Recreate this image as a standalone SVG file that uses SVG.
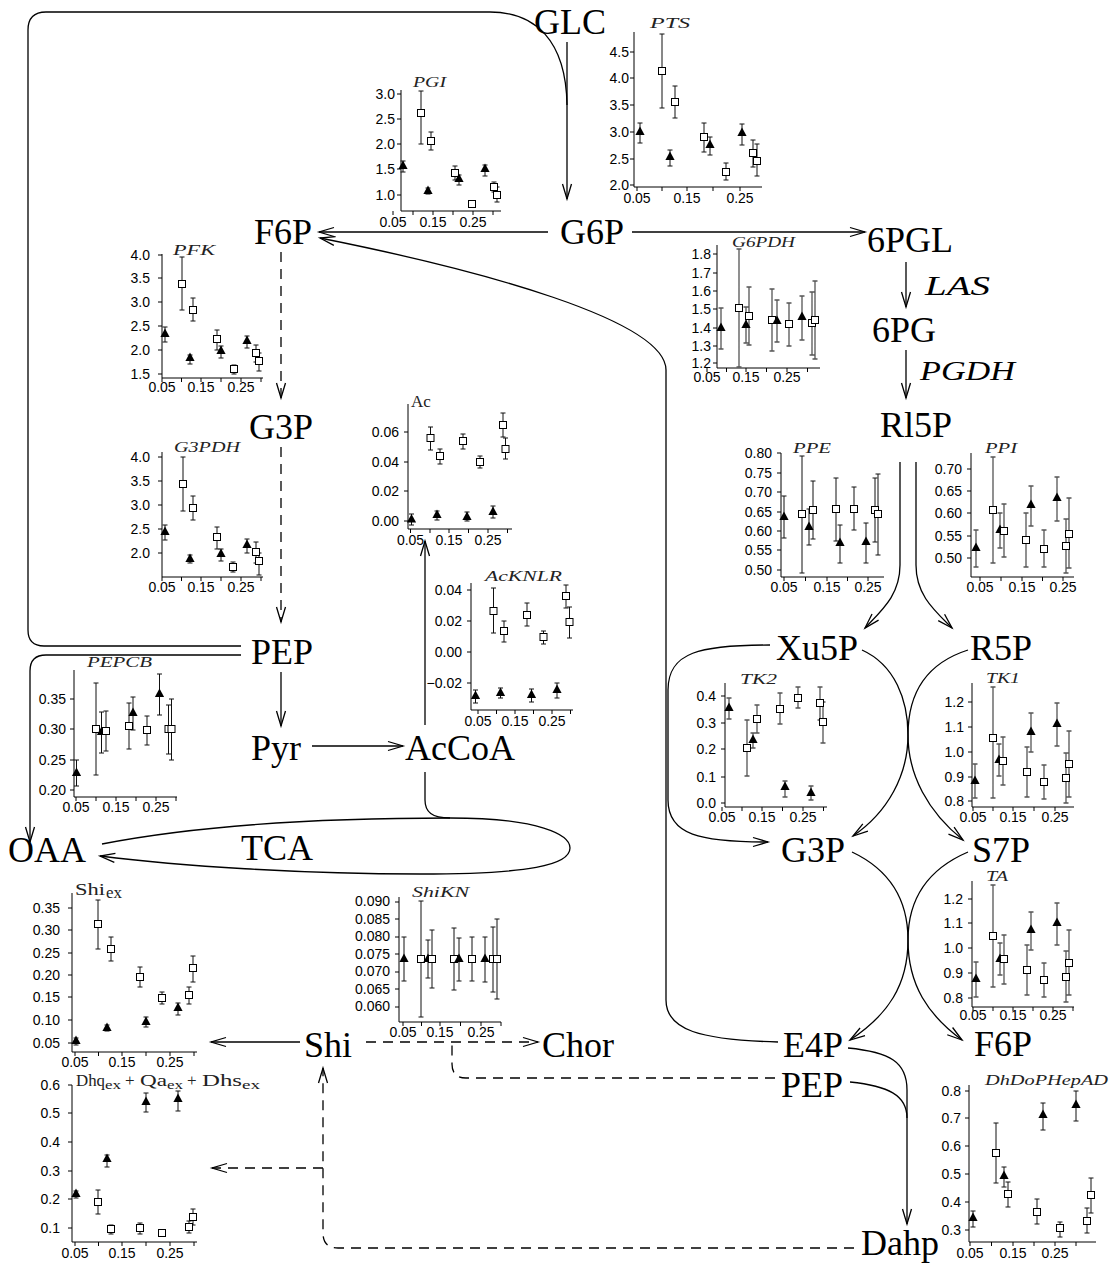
<svg xmlns="http://www.w3.org/2000/svg" xmlns:xlink="http://www.w3.org/1999/xlink" width="1113" height="1264" viewBox="0 0 1113 1264">
<defs>
<style>
.ax{fill:none;stroke:#000;stroke-width:1}
.eb{fill:none;stroke:#111;stroke-width:1}
.eg{fill:none;stroke:#555;stroke-width:1.3}
.tk{font-family:"Liberation Sans",Arial,sans-serif;font-size:14px;fill:#000}
.yl{text-anchor:end}
.xl{text-anchor:middle}
.ti{font-family:"Liberation Serif","Times New Roman",serif;font-style:italic;font-size:15px;fill:#222}
.tu{font-family:"Liberation Serif","Times New Roman",serif;font-size:17px;fill:#222}
.nd{font-family:"Liberation Serif","Times New Roman",serif;font-size:36px;fill:#000;text-anchor:middle}
.it{font-family:"Liberation Serif","Times New Roman",serif;font-size:28px;font-style:italic;fill:#000}
.cn{fill:none;stroke:#000;stroke-width:1.3}
.ds{stroke-dasharray:10 7}
</style>
<marker id="ah" markerUnits="userSpaceOnUse" markerWidth="20" markerHeight="12" refX="16" refY="6" orient="auto" overflow="visible"><path d="M1,1.5 L16,6 L1,10.5" fill="none" stroke="#000" stroke-width="1.3"/></marker>
<rect id="q" x="-3.5" y="-3.5" width="7" height="7" fill="#fff" stroke="#000" stroke-width="1"/>
<path id="t" d="M0,-5.5 L4.6,3 L-4.6,3Z" fill="#000"/>
</defs>
<rect width="1113" height="1264" fill="#fff"/>

<g id="connectors">
<path class="cn" d="M567,42 V199" marker-end="url(#ah)"/>
<path class="cn" d="M241,646 H44 Q28,646 28,630 V30 Q28,12 46,12 H490 C535,12 566,40 567,105"/>
<path class="cn" d="M241,655 H46 Q30,655 30,671 V842" marker-end="url(#ah)"/>
<path class="cn" d="M548,232 H319" marker-end="url(#ah)"/>
<path class="cn" d="M632,232 H865" marker-end="url(#ah)"/>
<path class="cn" d="M906,262 V307" marker-end="url(#ah)"/>
<path class="cn" d="M906,350 V398" marker-end="url(#ah)"/>
<path class="cn ds" d="M281,252 V398" marker-end="url(#ah)"/>
<path class="cn ds" d="M281,447 V622" marker-end="url(#ah)"/>
<path class="cn" d="M281,672 V726" marker-end="url(#ah)"/>
<path class="cn" d="M312,746 H403" marker-end="url(#ah)"/>
<path class="cn" d="M425,725 V541" marker-end="url(#ah)"/>
<path class="cn" d="M425,772 V800 C425,812 432,818 450,818"/>
<path class="cn" d="M102,844 C200,825 330,818 450,818 C540,818 570,835 570,848 C570,865 530,874 420,874 C300,874 180,866 100,856" marker-end="url(#ah)"/>
<path class="cn" d="M900,462 V565 C900,595 882,610 865,628" marker-end="url(#ah)"/>
<path class="cn" d="M916,462 V565 C916,595 934,610 952,628" marker-end="url(#ah)"/>
<path class="cn" d="M770,645 C700,645 668,652 668,690 V800 C668,835 700,842 768,842" marker-end="url(#ah)"/>
<path class="cn" d="M862,650 C895,665 908,700 908,735 C908,775 928,812 963,840" marker-end="url(#ah)"/>
<path class="cn" d="M968,650 C921,665 908,700 908,735 C908,775 888,812 853,836" marker-end="url(#ah)"/>
<path class="cn" d="M852,852 C890,870 908,900 908,940 C908,985 928,1015 962,1040" marker-end="url(#ah)"/>
<path class="cn" d="M968,852 C926,870 908,900 908,940 C908,985 888,1015 850,1040" marker-end="url(#ah)"/>
<path class="cn" d="M778,1042 C700,1040 666,1030 666,1000 V370 C666,320 480,270 320,238" marker-end="url(#ah)"/>
<path class="cn" d="M848,1048 C890,1052 907,1062 907,1090 V1224" marker-end="url(#ah)"/>
<path class="cn" d="M850,1082 C888,1086 907,1095 907,1118"/>
<path class="cn" d="M300,1042 H211" marker-end="url(#ah)"/>
<path class="cn ds" d="M366,1042 H538" marker-end="url(#ah)"/>
<path class="cn ds" d="M775,1078 H466 Q452,1078 452,1064 V1045"/>
<path class="cn ds" d="M854,1248 H338 Q323,1248 323,1233 V1068" marker-end="url(#ah)"/>
<path class="cn ds" d="M323,1168 H212" marker-end="url(#ah)"/>
</g>

<g id="n-GLC"><text class="nd" x="570" y="34">GLC</text></g>
<g id="n-G6P"><text class="nd" x="592" y="244">G6P</text></g>
<g id="n-F6P"><text class="nd" x="283" y="244">F6P</text></g>
<g id="n-6PGL"><text class="nd" x="910" y="252">6PGL</text></g>
<g id="n-6PG"><text class="nd" x="904" y="342">6PG</text></g>
<g id="n-Rl5P"><text class="nd" x="916" y="437">Rl5P</text></g>
<g id="n-G3P"><text class="nd" x="281" y="439">G3P</text></g>
<g id="n-PEP"><text class="nd" x="282" y="664">PEP</text></g>
<g id="n-Pyr"><text class="nd" x="276" y="760">Pyr</text></g>
<g id="n-AcCoA"><text class="nd" x="460" y="760">AcCoA</text></g>
<g id="n-OAA"><text class="nd" x="47" y="862">OAA</text></g>
<g id="n-TCA"><text class="nd" x="277" y="860">TCA</text></g>
<g id="n-Xu5P"><text class="nd" x="817" y="660">Xu5P</text></g>
<g id="n-R5P"><text class="nd" x="1001" y="660">R5P</text></g>
<g id="n-G3P2"><text class="nd" x="813" y="862">G3P</text></g>
<g id="n-S7P"><text class="nd" x="1001" y="862">S7P</text></g>
<g id="n-E4P"><text class="nd" x="813" y="1057">E4P</text></g>
<g id="n-F6P2"><text class="nd" x="1003" y="1056">F6P</text></g>
<g id="n-PEP2"><text class="nd" x="812" y="1097">PEP</text></g>
<g id="n-Shi"><text class="nd" x="328" y="1057">Shi</text></g>
<g id="n-Chor"><text class="nd" x="578" y="1057">Chor</text></g>
<g id="n-Dahp"><text class="nd" x="900" y="1255">Dahp</text></g>
<g id="l-LAS"><text class="it" x="925" y="295" textLength="65" lengthAdjust="spacingAndGlyphs">LAS</text></g>
<g id="l-PGDH"><text class="it" x="920" y="380" textLength="95" lengthAdjust="spacingAndGlyphs">PGDH</text></g>

<!-- PGI -->
<g id="p-PGI">
<path class="ax" d="M401,90 V211 H501 M397,94h4M397,119h4M397,144h4M397,169h4M397,195h4 M393,211v4M413,211v4M433,211v4M453,211v4M473,211v4M493,211v4"/>
<g class="tk yl"><text x="395" y="99">3.0</text><text x="395" y="124">2.5</text><text x="395" y="149">2.0</text><text x="395" y="174">1.5</text><text x="395" y="200">1.0</text></g>
<g class="tk xl"><text x="393" y="227">0.05</text><text x="433" y="227">0.15</text><text x="473" y="227">0.25</text></g>
<text class="ti" x="413" y="87" textLength="33" lengthAdjust="spacingAndGlyphs">PGI</text>
<path class="eb" d="M403 161V172M400.5 161h5M400.5 172h5M421 91V144M418.5 91h5M418.5 144h5M428 188V194M425.5 188h5M425.5 194h5M431 132V150M428.5 132h5M428.5 150h5M455 166V180M452.5 166h5M452.5 180h5M459 175V185M456.5 175h5M456.5 185h5M472 202V206M469.5 202h5M469.5 206h5M485 165V176M482.5 165h5M482.5 176h5M494 182V192M491.5 182h5M491.5 192h5M497 187V202M494.5 187h5M494.5 202h5"/>
<use href="#t" x="403" y="166"/><use href="#q" x="421" y="113"/><use href="#t" x="428" y="191"/><use href="#q" x="431" y="141"/><use href="#q" x="455" y="173"/><use href="#t" x="459" y="179"/><use href="#q" x="472" y="204"/><use href="#t" x="485" y="169"/><use href="#q" x="494" y="187"/><use href="#q" x="497" y="195"/>
</g>

<!-- PTS -->
<g id="p-PTS">
<path class="ax" d="M634,32 V187 H762 M630,52h4M630,78h4M630,105h4M630,132h4M630,159h4M630,185h4 M637,187v4M662,187v4M687,187v4M713,187v4M740,187v4"/>
<g class="tk yl"><text x="629" y="57">4.5</text><text x="629" y="83">4.0</text><text x="629" y="110">3.5</text><text x="629" y="137">3.0</text><text x="629" y="164">2.5</text><text x="629" y="190">2.0</text></g>
<g class="tk xl"><text x="637" y="203">0.05</text><text x="687" y="203">0.15</text><text x="740" y="203">0.25</text></g>
<text class="ti" x="650" y="28" textLength="40" lengthAdjust="spacingAndGlyphs">PTS</text>
<path class="eb" d="M640 123V143M637.5 123h5M637.5 143h5M662 34V108M659.5 34h5M659.5 108h5M670 150V166M667.5 150h5M667.5 166h5M675 86V118M672.5 86h5M672.5 118h5M704 123V152M701.5 123h5M701.5 152h5M710 137V155M707.5 137h5M707.5 155h5M726 163V180M723.5 163h5M723.5 180h5M742 124V145M739.5 124h5M739.5 145h5M753 140V167M750.5 140h5M750.5 167h5M757 144V176M754.5 144h5M754.5 176h5"/>
<use href="#t" x="640" y="132"/><use href="#q" x="662" y="71"/><use href="#t" x="670" y="157"/><use href="#q" x="675" y="102"/><use href="#q" x="704" y="137"/><use href="#t" x="710" y="145"/><use href="#q" x="726" y="172"/><use href="#t" x="742" y="133"/><use href="#q" x="753" y="153"/><use href="#q" x="757" y="161"/>
</g>

<!-- PFK -->
<g id="p-PFK">
<path class="ax" d="M162,254 V378 H263 M158,255h4M158,278h4M158,302h4M158,326h4M158,350h4M158,374h4 M162,378v4M181.5,378v4M201,378v4M221,378v4M241,378v4M261,378v4"/>
<g class="tk yl"><text x="150" y="260">4.0</text><text x="150" y="283">3.5</text><text x="150" y="307">3.0</text><text x="150" y="331">2.5</text><text x="150" y="355">2.0</text><text x="150" y="379">1.5</text></g>
<g class="tk xl"><text x="162" y="392">0.05</text><text x="201" y="392">0.15</text><text x="241" y="392">0.25</text></g>
<text class="ti" x="173" y="255" textLength="42" lengthAdjust="spacingAndGlyphs">PFK</text>
<path class="eb" d="M165 327V342M162.5 327h5M162.5 342h5M182 257V310M179.5 257h5M179.5 310h5M190 355V364M187.5 355h5M187.5 364h5M193 298V321M190.5 298h5M190.5 321h5M217 330V350M214.5 330h5M214.5 350h5M221 346V358M218.5 346h5M218.5 358h5M234 365V374M231.5 365h5M231.5 374h5M247 336V348M244.5 336h5M244.5 348h5M256 345V362M253.5 345h5M253.5 362h5M259 353V371M256.5 353h5M256.5 371h5"/>
<use href="#t" x="165" y="334"/><use href="#q" x="182" y="284"/><use href="#t" x="190" y="358"/><use href="#q" x="193" y="310"/><use href="#q" x="217" y="339"/><use href="#t" x="221" y="351"/><use href="#q" x="234" y="369"/><use href="#t" x="247" y="341"/><use href="#q" x="256" y="353"/><use href="#q" x="259" y="361"/>
</g>

<!-- G3PDH -->
<g id="p-G3PDH">
<path class="ax" d="M162,452 V577 H263 M158,457h4M158,481h4M158,505h4M158,529h4M158,553h4 M162,577v4M181.5,577v4M201,577v4M221,577v4M241,577v4M261,577v4"/>
<g class="tk yl"><text x="150" y="462">4.0</text><text x="150" y="486">3.5</text><text x="150" y="510">3.0</text><text x="150" y="534">2.5</text><text x="150" y="558">2.0</text></g>
<g class="tk xl"><text x="162" y="592">0.05</text><text x="201" y="592">0.15</text><text x="241" y="592">0.25</text></g>
<text class="ti" x="174" y="452" textLength="66" lengthAdjust="spacingAndGlyphs">G3PDH</text>
<path class="eb" d="M165 525V540M162.5 525h5M162.5 540h5M183 457V511M180.5 457h5M180.5 511h5M190 555V563M187.5 555h5M187.5 563h5M193 496V520M190.5 496h5M190.5 520h5M217 527V549M214.5 527h5M214.5 549h5M221 549V561M218.5 549h5M218.5 561h5M233 562V572M230.5 562h5M230.5 572h5M247 539V553M244.5 539h5M244.5 553h5M256 542V563M253.5 542h5M253.5 563h5M259 553V575M256.5 553h5M256.5 575h5"/>
<use href="#t" x="165" y="532"/><use href="#q" x="183" y="484"/><use href="#t" x="190" y="559"/><use href="#q" x="193" y="508"/><use href="#q" x="217" y="537"/><use href="#t" x="221" y="554"/><use href="#q" x="233" y="567"/><use href="#t" x="247" y="545"/><use href="#q" x="256" y="552"/><use href="#q" x="259" y="561"/>
</g>

<!-- Ac -->
<g id="p-Ac">
<path class="ax" d="M408,404 V529 H512 M404,432h4M404,462h4M404,491h4M404,521h4 M410.5,529v4M430,529v4M449,529v4M468.5,529v4M488,529v4M507.5,529v4"/>
<g class="tk yl"><text x="399" y="437">0.06</text><text x="399" y="467">0.04</text><text x="399" y="496">0.02</text><text x="399" y="526">0.00</text></g>
<g class="tk xl"><text x="410.5" y="545">0.05</text><text x="449" y="545">0.15</text><text x="488" y="545">0.25</text></g>
<text class="tu" x="411" y="407" font-size="16">Ac</text>
<path class="eb" d="M411.5 514V525M409 514h5M409 525h5M430.5 427V450M428 427h5M428 450h5M437 511V520M434.5 511h5M434.5 520h5M440 449V464M437.5 449h5M437.5 464h5M463 434V449M460.5 434h5M460.5 449h5M467 512V521M464.5 512h5M464.5 521h5M480 456V468M477.5 456h5M477.5 468h5M493 506V518M490.5 506h5M490.5 518h5M503 413V437M500.5 413h5M500.5 437h5M505.5 438V459M503 438h5M503 459h5"/>
<use href="#t" x="411.5" y="519.5"/><use href="#q" x="430.5" y="438"/><use href="#t" x="437" y="515"/><use href="#q" x="440" y="456"/><use href="#q" x="463" y="441"/><use href="#t" x="467" y="517"/><use href="#q" x="480" y="462"/><use href="#t" x="493" y="512"/><use href="#q" x="503" y="425"/><use href="#q" x="505.5" y="449"/>
</g>

<!-- AcKNLR -->
<g id="p-AcKNLR">
<path class="ax" d="M471,583 V710 H573 M467,590h4M467,621h4M467,652h4M467,683h4 M478,710v4M496.5,710v4M515,710v4M533.5,710v4M552,710v4M570.5,710v4"/>
<g class="tk yl"><text x="462" y="595">0.04</text><text x="462" y="626">0.02</text><text x="462" y="657">0.00</text><text x="462" y="688">−0.02</text></g>
<g class="tk xl"><text x="478" y="726">0.05</text><text x="515" y="726">0.15</text><text x="552" y="726">0.25</text></g>
<text class="ti" x="485" y="581" textLength="77" lengthAdjust="spacingAndGlyphs">AcKNLR</text>
<path class="eb" d="M475.5 690V703M473 690h5M473 703h5M493.5 588V633M491 588h5M491 633h5M500.5 688V698M498 688h5M498 698h5M504 621V642M501.5 621h5M501.5 642h5M527 603V626M524.5 603h5M524.5 626h5M531.5 689V702M529 689h5M529 702h5M543.5 631V644M541 631h5M541 644h5M557 683V698M554.5 683h5M554.5 698h5M566 585V608M563.5 585h5M563.5 608h5M569.5 607V638M567 607h5M567 638h5"/>
<use href="#t" x="475.5" y="696"/><use href="#q" x="493.5" y="611"/><use href="#t" x="500.5" y="693"/><use href="#q" x="504" y="631"/><use href="#q" x="527" y="615"/><use href="#t" x="531.5" y="695"/><use href="#q" x="543.5" y="637"/><use href="#t" x="557" y="690"/><use href="#q" x="566" y="596"/><use href="#q" x="569.5" y="622"/>
</g>

<!-- PEPCB -->
<g id="p-PEPCB">
<path class="ax" d="M74,670 V797 H177 M70,699h4M70,729h4M70,760h4M70,790h4 M76,797v4M96,797v4M116,797v4M136,797v4M156,797v4M176,797v4"/>
<g class="tk yl"><text x="66" y="704">0.35</text><text x="66" y="734">0.30</text><text x="66" y="765">0.25</text><text x="66" y="795">0.20</text></g>
<g class="tk xl"><text x="76" y="812">0.05</text><text x="116" y="812">0.15</text><text x="156" y="812">0.25</text></g>
<text class="ti" x="87" y="667" textLength="65" lengthAdjust="spacingAndGlyphs">PEPCB</text>
<path class="eb" d="M76.5 760V786M74 760h5M74 786h5M96 683V775M93.5 683h5M93.5 775h5M101.5 712V753M99 712h5M99 753h5M106 711V751M103.5 711h5M103.5 751h5M129 703V749M126.5 703h5M126.5 749h5M133 697V730M130.5 697h5M130.5 730h5M147 716V745M144.5 716h5M144.5 745h5M159.5 674V715M157 674h5M157 715h5M168.5 705V754M166 705h5M166 754h5M171.5 699V760M169 699h5M169 760h5"/>
<use href="#t" x="76.5" y="773"/><use href="#q" x="96" y="729"/><use href="#t" x="101.5" y="732"/><use href="#q" x="106" y="731"/><use href="#q" x="129" y="726"/><use href="#t" x="133" y="713"/><use href="#q" x="147" y="730"/><use href="#t" x="159.5" y="694"/><use href="#q" x="168.5" y="729"/><use href="#q" x="171.5" y="729"/>
</g>

<!-- G6PDH -->
<g id="p-G6PDH">
<path class="ax" d="M717,245 V368 H820 M713,254h4M713,273h4M713,291h4M713,309h4M713,328h4M713,346h4M713,363h4 M707,368v4M726.5,368v4M746,368v4M766.5,368v4M787,368v4M807.5,368v4"/>
<g class="tk yl"><text x="711" y="259">1.8</text><text x="711" y="278">1.7</text><text x="711" y="296">1.6</text><text x="711" y="314">1.5</text><text x="711" y="333">1.4</text><text x="711" y="351">1.3</text><text x="711" y="368">1.2</text></g>
<g class="tk xl"><text x="707" y="382">0.05</text><text x="746" y="382">0.15</text><text x="787" y="382">0.25</text></g>
<text class="ti" x="732" y="247" textLength="63" lengthAdjust="spacingAndGlyphs">G6PDH</text>
<path class="eg" d="M721 308V349M718.5 308h5M718.5 349h5M739 249V367M736.5 249h5M736.5 367h5M746 307V343M743.5 307h5M743.5 343h5M749 287V345M746.5 287h5M746.5 345h5M772 289V351M769.5 289h5M769.5 351h5M777 300V342M774.5 300h5M774.5 342h5M789 303V346M786.5 303h5M786.5 346h5M802 296V340M799.5 296h5M799.5 340h5M812 292V355M809.5 292h5M809.5 355h5M815 281V359M812.5 281h5M812.5 359h5"/>
<use href="#t" x="721" y="328"/><use href="#q" x="739" y="308"/><use href="#t" x="746" y="325"/><use href="#q" x="749" y="316"/><use href="#q" x="772" y="320"/><use href="#t" x="777" y="321"/><use href="#q" x="789" y="324"/><use href="#t" x="802" y="317"/><use href="#q" x="812" y="323"/><use href="#q" x="815" y="320"/>
</g>

<!-- PPE -->
<g id="p-PPE">
<path class="ax" d="M781,453 V577 H884 M777,453h4M777,473h4M777,492h4M777,512h4M777,531h4M777,550h4M777,570h4 M784,577v4M805.5,577v4M827,577v4M847.5,577v4M868,577v4"/>
<g class="tk yl"><text x="772" y="458">0.80</text><text x="772" y="478">0.75</text><text x="772" y="497">0.70</text><text x="772" y="517">0.65</text><text x="772" y="536">0.60</text><text x="772" y="555">0.55</text><text x="772" y="575">0.50</text></g>
<g class="tk xl"><text x="784" y="592">0.05</text><text x="827" y="592">0.15</text><text x="868" y="592">0.25</text></g>
<text class="ti" x="793" y="453" textLength="38" lengthAdjust="spacingAndGlyphs">PPE</text>
<path class="eb" d="M784 496V538M781.5 496h5M781.5 538h5M802 456V573M799.5 456h5M799.5 573h5M809 509V545M806.5 509h5M806.5 545h5M813 481V539M810.5 481h5M810.5 539h5M836 478V541M833.5 478h5M833.5 541h5M840 525V563M837.5 525h5M837.5 563h5M854 487V530M851.5 487h5M851.5 530h5M866 523V563M863.5 523h5M863.5 563h5M875 478V542M872.5 478h5M872.5 542h5M878 474V555M875.5 474h5M875.5 555h5"/>
<use href="#t" x="784" y="517"/><use href="#q" x="802" y="514"/><use href="#t" x="809" y="527"/><use href="#q" x="813" y="510"/><use href="#q" x="836" y="509"/><use href="#t" x="840" y="543"/><use href="#q" x="854" y="509"/><use href="#t" x="866" y="542"/><use href="#q" x="875" y="510"/><use href="#q" x="878" y="514"/>
</g>

<!-- PPI -->
<g id="p-PPI">
<path class="ax" d="M971,453 V577 H1074 M967,469h4M967,491h4M967,513h4M967,536h4M967,558h4 M980,577v4M1001,577v4M1022,577v4M1042.5,577v4M1063,577v4"/>
<g class="tk yl"><text x="962" y="474">0.70</text><text x="962" y="496">0.65</text><text x="962" y="518">0.60</text><text x="962" y="541">0.55</text><text x="962" y="563">0.50</text></g>
<g class="tk xl"><text x="980" y="592">0.05</text><text x="1022" y="592">0.15</text><text x="1063" y="592">0.25</text></g>
<text class="ti" x="985" y="453" textLength="32" lengthAdjust="spacingAndGlyphs">PPI</text>
<path class="eg" d="M976 530V567M973.5 530h5M973.5 567h5M993 457V563M990.5 457h5M990.5 563h5M1000 513V548M997.5 513h5M997.5 548h5M1004 504V557M1001.5 504h5M1001.5 557h5M1026 513V567M1023.5 513h5M1023.5 567h5M1031 486V526M1028.5 486h5M1028.5 526h5M1044 530V567M1041.5 530h5M1041.5 567h5M1057 477V521M1054.5 477h5M1054.5 521h5M1066 519V573M1063.5 519h5M1063.5 573h5M1069 498V568M1066.5 498h5M1066.5 568h5"/>
<use href="#t" x="976" y="548"/><use href="#q" x="993" y="510"/><use href="#t" x="1000" y="530"/><use href="#q" x="1004" y="531"/><use href="#q" x="1026" y="540"/><use href="#t" x="1031" y="505"/><use href="#q" x="1044" y="549"/><use href="#t" x="1057" y="498"/><use href="#q" x="1066" y="546"/><use href="#q" x="1069" y="534"/>
</g>

<!-- TK2 -->
<g id="p-TK2">
<path class="ax" d="M725,683 V807 H827 M721,696h4M721,723h4M721,749h4M721,777h4M721,803h4 M722,807v4M742,807v4M762,807v4M782.5,807v4M803,807v4M823.5,807v4"/>
<g class="tk yl"><text x="716" y="701">0.4</text><text x="716" y="728">0.3</text><text x="716" y="754">0.2</text><text x="716" y="782">0.1</text><text x="716" y="808">0.0</text></g>
<g class="tk xl"><text x="722" y="822">0.05</text><text x="762" y="822">0.15</text><text x="803" y="822">0.25</text></g>
<text class="ti" x="740" y="684" textLength="37" lengthAdjust="spacingAndGlyphs">TK2</text>
<path class="eg" d="M729 698V719M726.5 698h5M726.5 719h5M747 720V776M744.5 720h5M744.5 776h5M753 733V748M750.5 733h5M750.5 748h5M757 705V733M754.5 705h5M754.5 733h5M780 693V724M777.5 693h5M777.5 724h5M785 781V797M782.5 781h5M782.5 797h5M798 687V708M795.5 687h5M795.5 708h5M811 786V800M808.5 786h5M808.5 800h5M820 687V720M817.5 687h5M817.5 720h5M823 702V743M820.5 702h5M820.5 743h5"/>
<use href="#t" x="729" y="708"/><use href="#q" x="747" y="748"/><use href="#t" x="753" y="740"/><use href="#q" x="757" y="719"/><use href="#q" x="780" y="709"/><use href="#t" x="785" y="787"/><use href="#q" x="798" y="698"/><use href="#t" x="811" y="793"/><use href="#q" x="820" y="703"/><use href="#q" x="823" y="722"/>
</g>

<!-- TK1 -->
<g id="p-TK1">
<path class="ax" d="M972,683 V807 H1074 M968,702h4M968,727h4M968,752h4M968,777h4M968,801h4 M973,807v4M993,807v4M1013,807v4M1034,807v4M1055,807v4"/>
<g class="tk yl"><text x="964" y="707">1.2</text><text x="964" y="732">1.1</text><text x="964" y="757">1.0</text><text x="964" y="782">0.9</text><text x="964" y="806">0.8</text></g>
<g class="tk xl"><text x="973" y="822">0.05</text><text x="1013" y="822">0.15</text><text x="1055" y="822">0.25</text></g>
<text class="ti" x="986" y="683" textLength="34" lengthAdjust="spacingAndGlyphs">TK1</text>
<path class="eg" d="M975 764V798M972.5 764h5M972.5 798h5M993 687V798M990.5 687h5M990.5 798h5M999 744V776M996.5 744h5M996.5 776h5M1003 737V785M1000.5 737h5M1000.5 785h5M1027 747V797M1024.5 747h5M1024.5 797h5M1031 713V752M1028.5 713h5M1028.5 752h5M1044 765V799M1041.5 765h5M1041.5 799h5M1057 703V746M1054.5 703h5M1054.5 746h5M1066 753V803M1063.5 753h5M1063.5 803h5M1069 731V797M1066.5 731h5M1066.5 797h5"/>
<use href="#t" x="975" y="781"/><use href="#q" x="993" y="738"/><use href="#t" x="999" y="760"/><use href="#q" x="1003" y="761"/><use href="#q" x="1027" y="772"/><use href="#t" x="1031" y="732"/><use href="#q" x="1044" y="782"/><use href="#t" x="1057" y="724"/><use href="#q" x="1066" y="778"/><use href="#q" x="1069" y="764"/>
</g>

<!-- TA -->
<g id="p-TA">
<path class="ax" d="M972,881 V1007 H1074 M968,899h4M968,923h4M968,948h4M968,973h4M968,998h4 M973,1007v4M993,1007v4M1013,1007v4M1033,1007v4M1053,1007v4M1073,1007v4"/>
<g class="tk yl"><text x="963" y="904">1.2</text><text x="963" y="928">1.1</text><text x="963" y="953">1.0</text><text x="963" y="978">0.9</text><text x="963" y="1003">0.8</text></g>
<g class="tk xl"><text x="973" y="1020">0.05</text><text x="1013" y="1020">0.15</text><text x="1053" y="1020">0.25</text></g>
<text class="ti" x="986" y="881" textLength="22" lengthAdjust="spacingAndGlyphs">TA</text>
<path class="eg" d="M976 962V997M973.5 962h5M973.5 997h5M993 885V987M990.5 885h5M990.5 987h5M1000 943V975M997.5 943h5M997.5 975h5M1004 935V984M1001.5 935h5M1001.5 984h5M1027 945V995M1024.5 945h5M1024.5 995h5M1031 912V950M1028.5 912h5M1028.5 950h5M1044 963V997M1041.5 963h5M1041.5 997h5M1057 903V945M1054.5 903h5M1054.5 945h5M1066 951V1002M1063.5 951h5M1063.5 1002h5M1069 930V995M1066.5 930h5M1066.5 995h5"/>
<use href="#t" x="976" y="979"/><use href="#q" x="993" y="936"/><use href="#t" x="1000" y="959"/><use href="#q" x="1004" y="959"/><use href="#q" x="1027" y="970"/><use href="#t" x="1031" y="930"/><use href="#q" x="1044" y="980"/><use href="#t" x="1057" y="923"/><use href="#q" x="1066" y="977"/><use href="#q" x="1069" y="963"/>
</g>

<!-- DhDoPHepAD -->
<g id="p-DhDoPHepAD">
<path class="ax" d="M969,1085 V1242 H1096 M965,1091h4M965,1118h4M965,1146h4M965,1174h4M965,1202h4M965,1230h4 M970,1242v4M991.5,1242v4M1013,1242v4M1034,1242v4M1055,1242v4M1076,1242v4"/>
<g class="tk yl"><text x="961" y="1096">0.8</text><text x="961" y="1123">0.7</text><text x="961" y="1151">0.6</text><text x="961" y="1179">0.5</text><text x="961" y="1207">0.4</text><text x="961" y="1235">0.3</text></g>
<g class="tk xl"><text x="970" y="1258">0.05</text><text x="1013" y="1258">0.15</text><text x="1055" y="1258">0.25</text></g>
<text class="ti" x="985" y="1085" textLength="123" lengthAdjust="spacingAndGlyphs">DhDoPHepAD</text>
<path class="eb" d="M973 1211V1227M970.5 1211h5M970.5 1227h5M996 1123V1183M993.5 1123h5M993.5 1183h5M1004 1167V1187M1001.5 1167h5M1001.5 1187h5M1008 1182V1207M1005.5 1182h5M1005.5 1207h5M1037 1199V1224M1034.5 1199h5M1034.5 1224h5M1043 1103V1130M1040.5 1103h5M1040.5 1130h5M1060 1222V1237M1057.5 1222h5M1057.5 1237h5M1076 1091V1121M1073.5 1091h5M1073.5 1121h5M1087 1208V1233M1084.5 1208h5M1084.5 1233h5M1091 1178V1213M1088.5 1178h5M1088.5 1213h5"/>
<use href="#t" x="973" y="1218"/><use href="#q" x="996" y="1153"/><use href="#t" x="1004" y="1176"/><use href="#q" x="1008" y="1194"/><use href="#q" x="1037" y="1212"/><use href="#t" x="1043" y="1115"/><use href="#q" x="1060" y="1228"/><use href="#t" x="1076" y="1105"/><use href="#q" x="1087" y="1221"/><use href="#q" x="1091" y="1195"/>
</g>

<!-- Shi_ex -->
<g id="p-Shiex">
<path class="ax" d="M72,893 V1052 H197 M68,908h4M68,930h4M68,953h4M68,975h4M68,997h4M68,1020h4M68,1043h4 M75,1052v4M98.5,1052v4M122,1052v4M146,1052v4M170,1052v4M194,1052v4"/>
<g class="tk yl"><text x="60" y="913">0.35</text><text x="60" y="935">0.30</text><text x="60" y="958">0.25</text><text x="60" y="980">0.20</text><text x="60" y="1002">0.15</text><text x="60" y="1025">0.10</text><text x="60" y="1048">0.05</text></g>
<g class="tk xl"><text x="75" y="1067">0.05</text><text x="122" y="1067">0.15</text><text x="170" y="1067">0.25</text></g>
<text class="tu" x="75" y="895" font-size="18" textLength="30" lengthAdjust="spacingAndGlyphs">Shi</text><text class="tu" x="106" y="898" font-size="13">ex</text>
<path class="eb" d="M76 1038V1045M73.5 1038h5M73.5 1045h5M98 900V949M95.5 900h5M95.5 949h5M107 1025V1031M104.5 1025h5M104.5 1031h5M111 937V961M108.5 937h5M108.5 961h5M140 967V987M137.5 967h5M137.5 987h5M146 1017V1027M143.5 1017h5M143.5 1027h5M162 992V1004M159.5 992h5M159.5 1004h5M178 1003V1015M175.5 1003h5M175.5 1015h5M189 987V1004M186.5 987h5M186.5 1004h5M193 956V982M190.5 956h5M190.5 982h5"/>
<use href="#t" x="76" y="1041"/><use href="#q" x="98" y="924"/><use href="#t" x="107" y="1028"/><use href="#q" x="111" y="949"/><use href="#q" x="140" y="977"/><use href="#t" x="146" y="1022"/><use href="#q" x="162" y="998"/><use href="#t" x="178" y="1008"/><use href="#q" x="189" y="995"/><use href="#q" x="193" y="968"/>
</g>

<!-- ShiKN -->
<g id="p-ShiKN">
<path class="ax" d="M399,897 V1022 H501 M395,902h4M395,919h4M395,937h4M395,954h4M395,972h4M395,989h4M395,1007h4 M403,1022v4M421.5,1022v4M440,1022v4M460.5,1022v4M481,1022v4M501,1022v4"/>
<g class="tk yl" font-size="13.5"><text x="390" y="906">0.090</text><text x="390" y="924">0.085</text><text x="390" y="941">0.080</text><text x="390" y="959">0.075</text><text x="390" y="976">0.070</text><text x="390" y="994">0.065</text><text x="390" y="1011">0.060</text></g>
<g class="tk xl"><text x="403" y="1037">0.05</text><text x="440" y="1037">0.15</text><text x="481" y="1037">0.25</text></g>
<text class="ti" x="412" y="897" textLength="57" lengthAdjust="spacingAndGlyphs">ShiKN</text>
<path class="eb" d="M404 937V981M401.5 937h5M401.5 981h5M421 901V1017M418.5 901h5M418.5 1017h5M428 940V978M425.5 940h5M425.5 978h5M432 930V988M429.5 930h5M429.5 988h5M454 928V990M451.5 928h5M451.5 990h5M459 938V981M456.5 938h5M456.5 981h5M472 937V981M469.5 937h5M469.5 981h5M485 937V982M482.5 937h5M482.5 982h5M493 927V992M490.5 927h5M490.5 992h5M497 919V999M494.5 919h5M494.5 999h5"/>
<use href="#t" x="404" y="959"/><use href="#q" x="421" y="959"/><use href="#t" x="428" y="959"/><use href="#q" x="432" y="959"/><use href="#q" x="454" y="959"/><use href="#t" x="459" y="959"/><use href="#q" x="472" y="959"/><use href="#t" x="485" y="959"/><use href="#q" x="493" y="959"/><use href="#q" x="497" y="959"/>
</g>

<!-- Dhq+Qa+Dhs -->
<g id="p-Dhq">
<path class="ax" d="M72,1085 V1242 H197 M68,1085h4M68,1113h4M68,1142h4M68,1171h4M68,1199h4M68,1228h4 M75,1242v4M98.5,1242v4M122,1242v4M146,1242v4M170,1242v4M194,1242v4"/>
<g class="tk yl"><text x="60" y="1090">0.6</text><text x="60" y="1118">0.5</text><text x="60" y="1147">0.4</text><text x="60" y="1176">0.3</text><text x="60" y="1204">0.2</text><text x="60" y="1233">0.1</text></g>
<g class="tk xl"><text x="75" y="1258">0.05</text><text x="122" y="1258">0.15</text><text x="170" y="1258">0.25</text></g>
<g class="tu" font-size="18">
<text x="76" y="1086" textLength="29" lengthAdjust="spacingAndGlyphs">Dhq</text>
<text x="105" y="1089" font-size="13" textLength="16" lengthAdjust="spacingAndGlyphs">ex</text>
<text x="125" y="1086">+</text>
<text x="140" y="1086" textLength="27" lengthAdjust="spacingAndGlyphs">Qa</text>
<text x="167" y="1089" font-size="13" textLength="16" lengthAdjust="spacingAndGlyphs">ex</text>
<text x="187" y="1086">+</text>
<text x="202" y="1086" textLength="40" lengthAdjust="spacingAndGlyphs">Dhs</text>
<text x="242" y="1089" font-size="13" textLength="18" lengthAdjust="spacingAndGlyphs">ex</text>
</g>
<path class="eb" d="M76 1191V1198M73.5 1191h5M73.5 1198h5M98 1190V1214M95.5 1190h5M95.5 1214h5M107 1155V1167M104.5 1155h5M104.5 1167h5M111 1225V1234M108.5 1225h5M108.5 1234h5M140 1223V1234M137.5 1223h5M137.5 1234h5M146 1093V1112M143.5 1093h5M143.5 1112h5M178 1091V1111M175.5 1091h5M175.5 1111h5M189 1221V1233M186.5 1221h5M186.5 1233h5M193 1209V1225M190.5 1209h5M190.5 1225h5"/>
<use href="#t" x="76" y="1194"/><use href="#q" x="98" y="1202"/><use href="#t" x="107" y="1159"/><use href="#q" x="111" y="1229"/><use href="#q" x="140" y="1228"/><use href="#t" x="146" y="1102"/><use href="#q" x="162" y="1233"/><use href="#t" x="178" y="1099"/><use href="#q" x="189" y="1227"/><use href="#q" x="193" y="1217"/>
</g>
</svg>
